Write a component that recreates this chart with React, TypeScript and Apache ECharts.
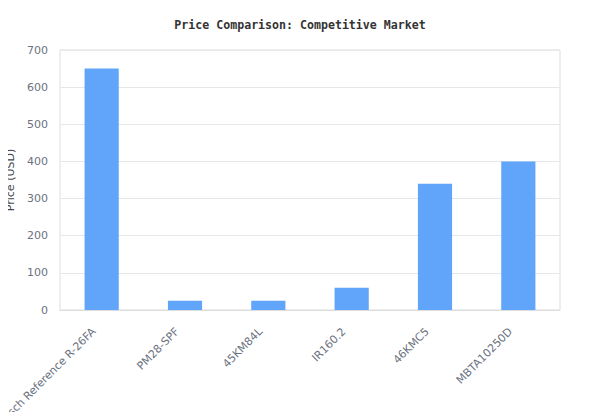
import { useEffect, useRef } from 'react';
import * as echarts from 'echarts';

const products = ['Bosch Reference R-26FA', 'PM28-SPF', '45KM84L', 'IR160.2', '46KMC5', 'MBTA10250D'];
const prices = [650, 25, 25, 60, 340, 400];
const yAxisTitle = 'Price (USD)';

const LABEL = '#6b7280';
const FONT = 'DejaVu Sans';

export default function App() {
  const ref = useRef<HTMLDivElement | null>(null);

  useEffect(() => {
    if (!ref.current) return;
    const chart = echarts.init(ref.current, undefined, { renderer: 'svg' });

    chart.setOption({
      animation: false,
      title: {
        text: 'Price Comparison: Competitive Market',
        left: 'center',
        top: 14,
        textStyle: { fontFamily: 'DejaVu Sans Mono', fontSize: 11.6, fontWeight: 'bold', color: '#333' },
      },
      grid: {
        left: 60,
        right: 40,
        top: 50,
        bottom: 110,
        show: true,
        borderColor: '#dddddd',
        borderWidth: 1,
        containLabel: false,
        outerBoundsMode: 'none',
      },
      // y-axis title drawn as rotated text (the axis name got pushed off the left edge)
      graphic: [
        {
          type: 'text',
          x: 10,
          y: 180,
          rotation: Math.PI / 2,
          style: {
            text: yAxisTitle,
            fill: '#444',
            fontSize: 11,
            fontFamily: FONT,
            align: 'center',
            verticalAlign: 'middle',
          },
        },
      ],
      xAxis: {
        type: 'category',
        data: products,
        axisLine: { lineStyle: { color: '#dddddd' } },
        axisTick: { show: false },
        axisLabel: {
          color: LABEL,
          fontSize: 11,
          fontFamily: FONT,
          rotate: 45,
          interval: 0,
          margin: 12,
          padding: [0, 11, 0, 0],
        },
      },
      yAxis: {
        type: 'value',
        min: 0,
        max: 700,
        interval: 100,
        axisLine: { show: false },
        axisTick: { show: false },
        splitLine: { lineStyle: { color: '#e5e7eb' } },
        axisLabel: { color: LABEL, fontSize: 11, fontFamily: FONT, margin: 12 },
      },
      series: [
        {
          type: 'bar',
          data: prices,
          barWidth: '41%',
          itemStyle: { color: '#60a5fa' },
        },
      ],
    });

    return () => chart.dispose();
  }, []);

  return <div ref={ref} style={{ width: 600, height: 420, margin: -8 }} />;
}
